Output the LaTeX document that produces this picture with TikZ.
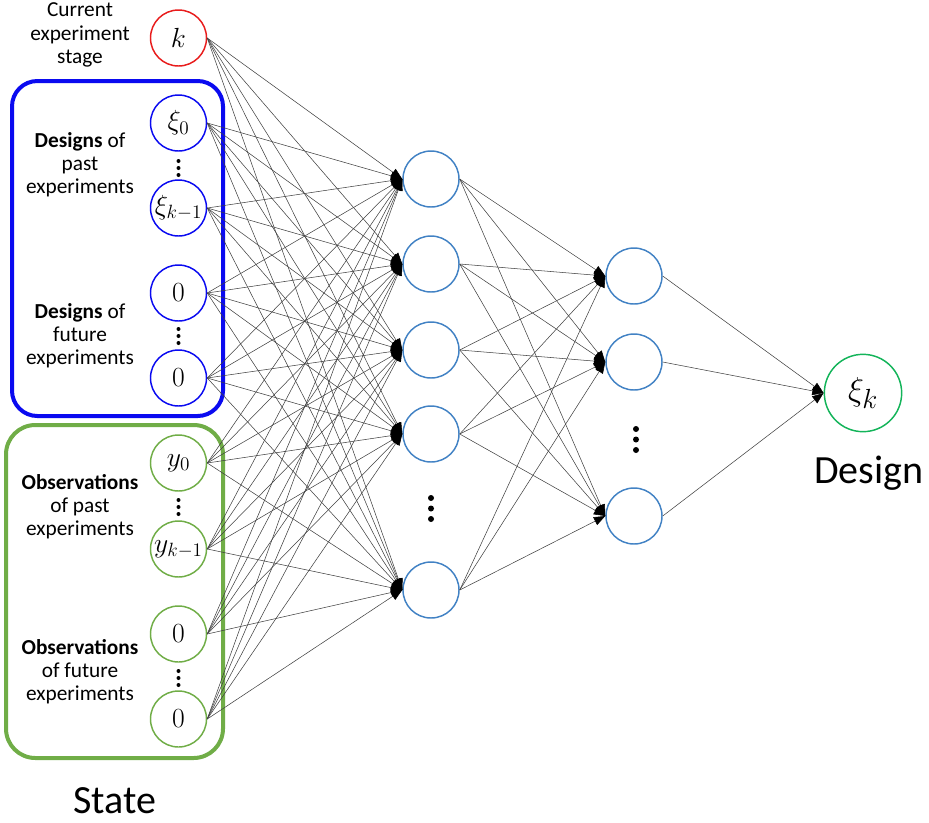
\documentclass[tikz,border=0pt]{standalone}
\usepackage{fontspec}
\setmainfont{Carlito}
\usetikzlibrary{arrows.meta}
\definecolor{stagered}{RGB}{232,28,28}
\definecolor{designblue}{RGB}{10,10,240}
\definecolor{obsgreen}{RGB}{112,173,71}
\definecolor{hidblue}{RGB}{66,130,196}
\definecolor{outgreen}{RGB}{20,180,90}

\begin{document}
\begin{tikzpicture}[x=0.75pt,y=-0.75pt]
\tikzstyle{every node}+=[inner sep=0pt]
\tikzstyle{neuron}=[circle,draw,line width=1.1pt,minimum size=42pt,font=\fontsize{20}{22}\selectfont]
\tikzstyle{edge}=[black!75,line width=0.4pt,-{Triangle[length=8.5pt,width=6.5pt,fill=black,color=black]}]
\tikzstyle{label}=[align=center,font=\fontsize{16}{17.4}\selectfont]
\tikzstyle{vdot}=[circle,fill=black,minimum size=3pt]
\useasboundingbox (0,0) rectangle (929,822);
% state boxes
\draw [designblue, line width=3pt, rounded corners=19pt] (12,81) rectangle (223,416);
\draw [obsgreen, line width=3pt, rounded corners=22pt] (6,425) rectangle (223,758);
% input layer
\node [neuron, draw=stagered] (in0) at (178.5,38) {$k$};
\node [neuron, draw=designblue] (in1) at (178.5,123) {$\xi_0$};
\node [neuron, draw=designblue] (in2) at (178.5,208) {$\xi_{k-1}$};
\node [neuron, draw=designblue] (in3) at (178.5,293) {$0$};
\node [neuron, draw=designblue] (in4) at (178.5,378) {$0$};
\node [neuron, draw=obsgreen] (in5) at (178.5,463) {$y_0$};
\node [neuron, draw=obsgreen] (in6) at (178.5,549) {$y_{k-1}$};
\node [neuron, draw=obsgreen] (in7) at (178.5,634) {$0$};
\node [neuron, draw=obsgreen] (in8) at (178.5,719) {$0$};
% hidden layers
\node [neuron, draw=hidblue] (ha1) at (431,179) {};
\node [neuron, draw=hidblue] (ha2) at (431,264) {};
\node [neuron, draw=hidblue] (ha3) at (431,350) {};
\node [neuron, draw=hidblue] (ha4) at (431,434) {};
\node [neuron, draw=hidblue] (ha5) at (431,590) {};
\node [neuron, draw=hidblue] (hb1) at (634,276) {};
\node [neuron, draw=hidblue] (hb2) at (634,362) {};
\node [neuron, draw=hidblue] (hb3) at (634,516) {};
% output
\node [neuron, draw=outgreen, minimum size=58pt, font=\fontsize{29}{31}\selectfont] (out) at (863,393) {$\xi_k$};
% dots
\foreach \x/\y/\s in {178.5/168/1, 178.5/336/1, 178.5/507/1, 178.5/678/1, 431/508.5/1.5, 636/439.5/1.5}
  \foreach \d in {-1,0,1}
    \node [vdot, minimum size=\s*3pt] at (\x,\y+\d*\s*7) {};
% connections
\foreach \i in {0,...,8}
  \foreach \j in {1,...,5}
    \draw [edge] (in\i.east) -- (ha\j.west);
\foreach \i in {1,...,5}
  \foreach \j in {1,2,3}
    \draw [edge] (ha\i.east) -- (hb\j.west);
\foreach \j in {1,2,3}
  \draw [edge] (hb\j.east) -- (out.west);
% labels
\node [label] (stage) at (80,35) {Current\\experiment\\stage};
\node [label] (pastd) at (80,165) {\textbf{Designs} of\\past\\experiments};
\node [label] (futd) at (80,336) {\textbf{Designs} of\\future\\experiments};
\node [label] (pasto) at (80,507) {\textbf{Observations}\\of past\\experiments};
\node [label] (futo) at (80,672) {\textbf{Observations}\\of future\\experiments};
\node [anchor=base west, font=\fontsize{30}{32}\selectfont] (state) at (73,813) {State};
\node [anchor=base west, font=\fontsize{30}{32}\selectfont] (design) at (814,483) {Design};
\end{tikzpicture}
\end{document}
